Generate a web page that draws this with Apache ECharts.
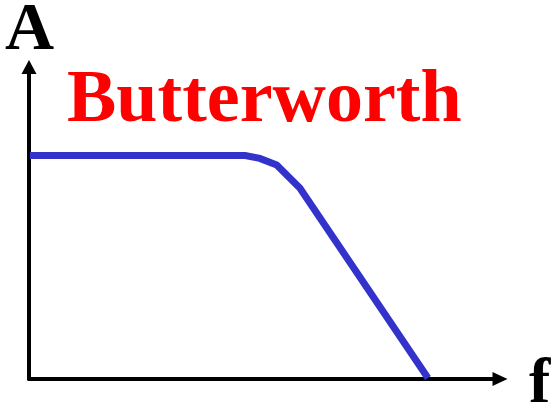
<!DOCTYPE html>
<html>
<head>
<meta charset="utf-8">
<style>html,body{margin:0;padding:0;background:#fff}#c{width:553px;height:408px}</style>
<script src="https://cdn.jsdelivr.net/npm/echarts@6/dist/echarts.min.js"></script>
</head>
<body>
<div id="c"></div>
<script>
// Response curve (frequency units 0-100, amplitude units 0-100)
const freq = [0.2, 45.9, 49.0, 52.6, 57.5, 84.7];
const amplitude = [71.6, 71.6, 70.7, 68.6, 61.2, 0.3];
const titleText = 'Butterworth';
const yAxisName = 'A';
const xAxisName = 'f';

const chart = echarts.init(document.getElementById('c'), null, {renderer: 'canvas'});
const serif = '"Liberation Serif", "Times New Roman", serif';
chart.setOption({
  animation: false,
  backgroundColor: '#ffffff',
  grid: {left: 29, right: 53, top: 67, bottom: 29, containLabel: false},
  xAxis: {
    type: 'value', min: 0, max: 100,
    axisLine: {show: true, onZero: false, symbol: ['none', 'triangle'], symbolSize: [14, 15],
      lineStyle: {color: '#000', width: 4}},
    axisTick: {show: false}, axisLabel: {show: false}, splitLine: {show: false}
  },
  yAxis: {
    type: 'value', min: 0, max: 100,
    axisLine: {show: true, onZero: false, symbol: ['none', 'triangle'], symbolSize: [15, 14],
      lineStyle: {color: '#000', width: 4}},
    axisTick: {show: false}, axisLabel: {show: false}, splitLine: {show: false}
  },
  series: [{
    type: 'line',
    data: freq.map((f, i) => [f, amplitude[i]]),
    symbol: 'none',
    clip: false,
    lineStyle: {color: '#3333CC', width: 7, cap: 'butt', join: 'miter'}
  }],
  graphic: [
    {type: 'text', x: 67, y: 102, style: {text: titleText, fill: '#ff0000',
      font: 'bold 74px ' + serif, textAlign: 'left', textVerticalAlign: 'middle'}},
    {type: 'text', x: 29.5, y: 31, style: {text: yAxisName, fill: '#000',
      font: 'bold 68px ' + serif, textAlign: 'center', textVerticalAlign: 'middle'}},
    {type: 'text', x: 529, y: 385, style: {text: xAxisName, fill: '#000',
      font: 'bold 64px ' + serif, textAlign: 'left', textVerticalAlign: 'middle'}}
  ]
});
</script>
</body>
</html>
